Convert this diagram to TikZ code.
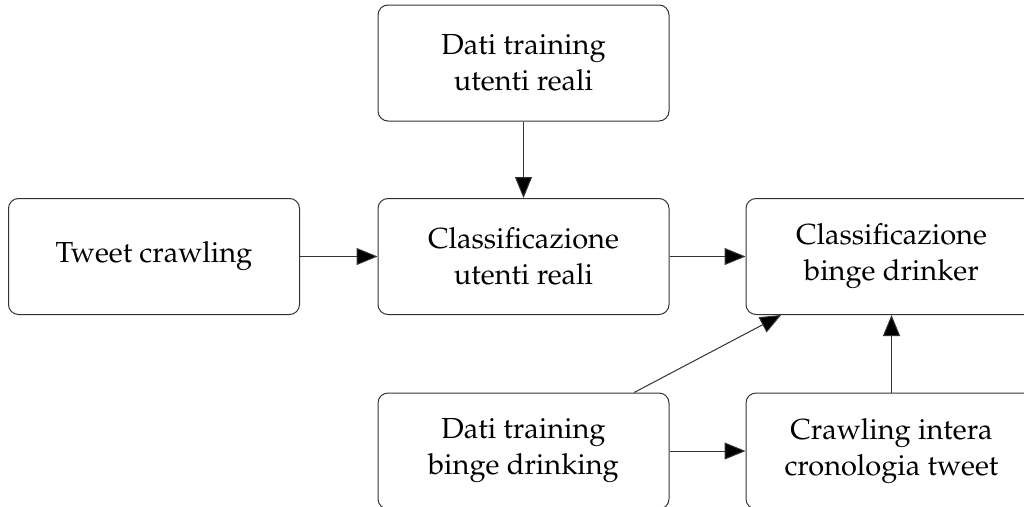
\documentclass[tikz,border=0pt]{standalone}
\usepackage[T1]{fontenc}
\usepackage{mathpazo}
\usetikzlibrary{arrows.meta}
\tikzset{
  box/.style={draw=black!80, line width=1pt, rounded corners=10pt, minimum width=291pt, minimum height=116pt, inner sep=0pt, align=center, font=\fontsize{29}{36}\selectfont},
  conn/.style={draw=black!80, line width=1pt, -{Triangle[length=21pt,width=17pt,fill=black]}}
}
\begin{document}
\begin{tikzpicture}[x=1pt,y=-1pt]
\clip (0,0) rectangle (1024,506);
\fill[white] (0,0) rectangle (1024,506);
\node[box] (top) at (523.5,63) {Dati training\\utenti reali};
\node[box] (left) at (154,256.5) {Tweet crawling};
\node[box] (mid) at (523.5,256.5) {Classificazione\\utenti reali};
\node[box] (right) at (891.5,256.5) {Classificazione\\binge drinker};
\node[box] (bm) at (523.5,451) {Dati training\\binge drinking};
\node[box] (br) at (891.5,451) {Crawling intera\\cronologia tweet};
\draw[conn] (top) -- (mid);
\draw[conn] (left) -- (mid);
\draw[conn] (mid) -- (right);
\draw[conn] (bm) -- (right);
\draw[conn] (bm) -- (br);
\draw[conn] (br) -- (right);
\end{tikzpicture}
\end{document}
